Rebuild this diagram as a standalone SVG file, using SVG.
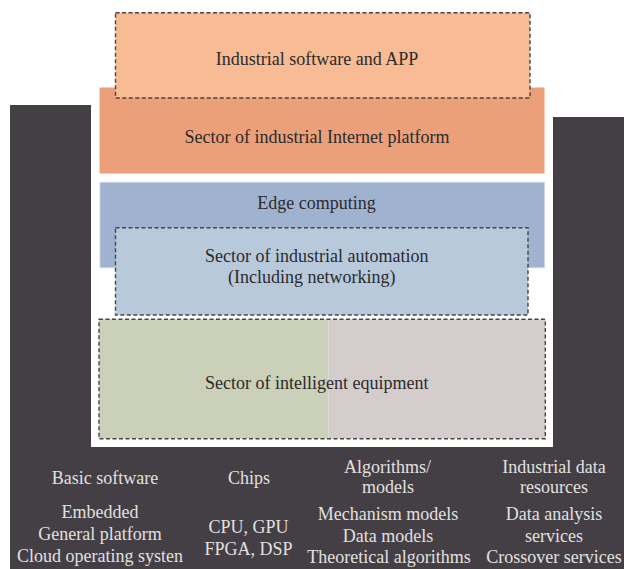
<svg xmlns="http://www.w3.org/2000/svg" width="624" height="569" viewBox="0 0 624 569">
  <style>
    .lbl { font-family: "Liberation Serif", "Times New Roman", serif; font-size: 18px; fill: #2b2b2b; text-anchor: middle; }
    .base { font-family: "Liberation Serif", "Times New Roman", serif; font-size: 18px; fill: #e2e0e0; text-anchor: middle; }
    .dash { fill: none; stroke: #454545; stroke-width: 1.4; stroke-dasharray: 4 2.5; }
  </style>
  <rect width="624" height="569" fill="#ffffff"/>

  <!-- dark U-shaped foundation frame -->
  <g id="foundation">
    <path d="M10,105 H91 V447 H553 V117 H624 V569 H10 Z" fill="#433f44"/>
  </g>

  <!-- industrial Internet platform layer -->
  <g id="platform">
    <rect x="99.5" y="87.5" width="445" height="86" fill="#eba07a"/>
    <text class="lbl" x="317" y="143">Sector of industrial Internet platform</text>
  </g>

  <!-- software / APP layer sitting on the platform -->
  <g id="software">
    <rect x="115.5" y="12.7" width="414.5" height="85.3" fill="#f8bb93"/>
    <rect class="dash" x="115.5" y="12.7" width="414.5" height="85.3"/>
    <text class="lbl" x="317" y="65">Industrial software and APP</text>
  </g>

  <!-- edge computing layer -->
  <g id="edge">
    <rect x="100" y="182.3" width="444.5" height="85.4" fill="#9fb3d0" stroke="#c9d5e6" stroke-width="1"/>
    <text class="lbl" x="316.5" y="209">Edge computing</text>
  </g>

  <!-- industrial automation layer -->
  <g id="automation">
    <rect x="115.5" y="227.7" width="412.5" height="87.3" fill="#b8c9dc"/>
    <rect class="dash" x="115.5" y="227.7" width="412.5" height="87.3"/>
    <text class="lbl" x="316.7" y="261.7">Sector of industrial automation</text>
    <text class="lbl" x="311.7" y="283.3">(Including networking)</text>
  </g>

  <!-- intelligent equipment layer -->
  <g id="equipment">
    <rect x="99" y="319.3" width="229.3" height="119.4" fill="#cbd0b8"/>
    <rect x="328.3" y="319.3" width="217" height="119.4" fill="#d5cdcc"/>
    <rect class="dash" x="99" y="319.3" width="446.3" height="119.4"/>
    <text class="lbl" x="316.7" y="389">Sector of intelligent equipment</text>
  </g>

  <!-- foundation columns -->
  <g id="basic-software">
    <text class="base" x="105" y="484">Basic software</text>
    <text class="base" x="100" y="518">Embedded</text>
    <text class="base" x="100" y="540">General platform</text>
    <text class="base" x="100" y="562">Cloud operating systen</text>
  </g>
  <g id="chips">
    <text class="base" x="249" y="484">Chips</text>
    <text class="base" x="248.5" y="533">CPU, GPU</text>
    <text class="base" x="248.5" y="555">FPGA, DSP</text>
  </g>
  <g id="algorithms">
    <text class="base" x="387.5" y="473">Algorithms/</text>
    <text class="base" x="388" y="493">models</text>
    <text class="base" x="388" y="520">Mechanism models</text>
    <text class="base" x="388" y="542">Data models</text>
    <text class="base" x="389" y="563">Theoretical algorithms</text>
  </g>
  <g id="data-resources">
    <text class="base" x="554" y="473">Industrial data</text>
    <text class="base" x="554" y="493">resources</text>
    <text class="base" x="554" y="520">Data analysis</text>
    <text class="base" x="554" y="542">services</text>
    <text class="base" x="554" y="563">Crossover services</text>
  </g>

  <!-- no connectors in this layered diagram -->
  <g id="connectors"/>
</svg>
